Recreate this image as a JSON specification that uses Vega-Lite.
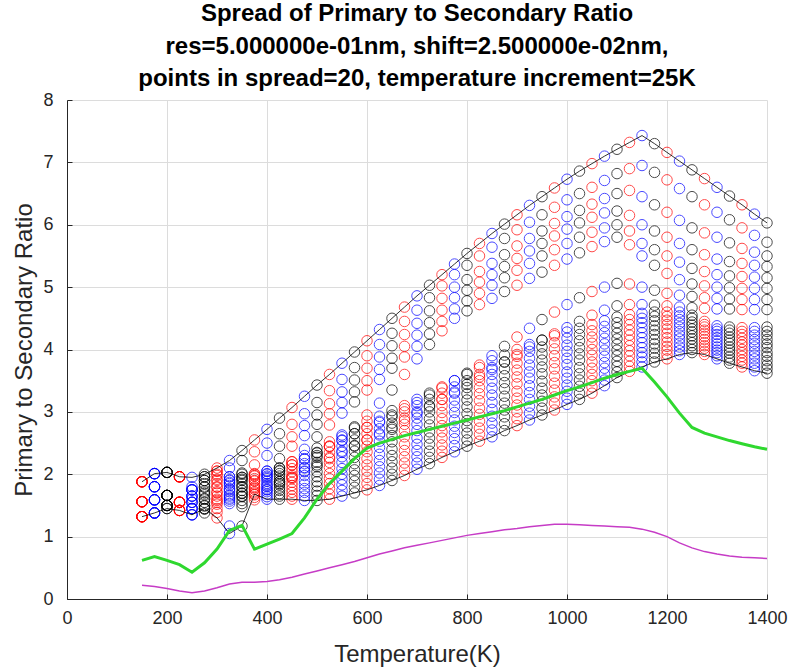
{
"$schema": "https://vega.github.io/schema/vega-lite/v6.json",
"width": 700, "height": 499,
"autosize": {"type": "none"},
"padding": {"left": 67, "top": 100, "right": 26, "bottom": 71},
"background": "white",
"title": {"text": ["Spread of Primary to Secondary Ratio", "res=5.000000e-01nm, shift=2.500000e-02nm,", "points in spread=20, temperature increment=25K"], "font": "Liberation Sans", "fontSize": 24, "fontWeight": "bold", "lineHeight": 32.5, "anchor": "middle", "frame": "group", "offset": 0, "color": "#000000"},
"config": {"view": {"stroke": null}},
"datasets": {
"pts": [
{"t":150,"v":1.88},{"t":150,"v":1.56},{"t":150,"v":1.32},{"t":150,"v":1.88},{"t":150,"v":1.56},{"t":150,"v":1.32},{"t":150,"v":1.88},{"t":150,"v":1.32},{"t":150,"v":1.32},{"t":150,"v":1.32},{"t":150,"v":1.32},{"t":150,"v":1.56},{"t":150,"v":1.56},{"t":150,"v":1.56},{"t":150,"v":1.56},{"t":150,"v":1.88},{"t":150,"v":1.88},{"t":150,"v":1.32},{"t":150,"v":1.56},{"t":150,"v":1.88},
{"t":175,"v":2.01},{"t":175,"v":1.8},{"t":175,"v":1.59},{"t":175,"v":2.01},{"t":175,"v":1.38},{"t":175,"v":1.59},{"t":175,"v":1.8},{"t":175,"v":1.38},{"t":175,"v":1.38},{"t":175,"v":1.38},{"t":175,"v":1.59},{"t":175,"v":1.59},{"t":175,"v":1.59},{"t":175,"v":1.8},{"t":175,"v":1.8},{"t":175,"v":1.8},{"t":175,"v":2.01},{"t":175,"v":2.01},{"t":175,"v":1.38},{"t":175,"v":2.01},
{"t":200,"v":2.03},{"t":200,"v":1.66},{"t":200,"v":1.5},{"t":200,"v":2.03},{"t":200,"v":1.66},{"t":200,"v":1.5},{"t":200,"v":2.03},{"t":200,"v":1.45},{"t":200,"v":1.45},{"t":200,"v":1.5},{"t":200,"v":1.5},{"t":200,"v":1.5},{"t":200,"v":1.66},{"t":200,"v":1.66},{"t":200,"v":1.66},{"t":200,"v":1.66},{"t":200,"v":2.03},{"t":200,"v":1.5},{"t":200,"v":1.66},{"t":200,"v":2.03},
{"t":225,"v":1.96},{"t":225,"v":1.55},{"t":225,"v":1.42},{"t":225,"v":1.96},{"t":225,"v":1.55},{"t":225,"v":1.42},{"t":225,"v":1.96},{"t":225,"v":1.55},{"t":225,"v":1.42},{"t":225,"v":1.42},{"t":225,"v":1.55},{"t":225,"v":1.55},{"t":225,"v":1.55},{"t":225,"v":1.55},{"t":225,"v":1.42},{"t":225,"v":1.96},{"t":225,"v":1.55},{"t":225,"v":1.42},{"t":225,"v":1.96},{"t":225,"v":1.96},
{"t":250,"v":1.95},{"t":250,"v":1.75},{"t":250,"v":1.65},{"t":250,"v":1.55},{"t":250,"v":1.45},{"t":250,"v":1.35},{"t":250,"v":1.75},{"t":250,"v":1.45},{"t":250,"v":1.35},{"t":250,"v":1.35},{"t":250,"v":1.45},{"t":250,"v":1.45},{"t":250,"v":1.55},{"t":250,"v":1.55},{"t":250,"v":1.65},{"t":250,"v":1.65},{"t":250,"v":1.75},{"t":250,"v":1.75},{"t":250,"v":1.6},{"t":250,"v":1.8},
{"t":275,"v":2.0},{"t":275,"v":1.9},{"t":275,"v":1.8},{"t":275,"v":1.7},{"t":275,"v":1.6},{"t":275,"v":1.45},{"t":275,"v":1.96},{"t":275,"v":1.5},{"t":275,"v":1.45},{"t":275,"v":1.38},{"t":275,"v":1.44},{"t":275,"v":1.49},{"t":275,"v":1.55},{"t":275,"v":1.61},{"t":275,"v":1.67},{"t":275,"v":1.73},{"t":275,"v":1.79},{"t":275,"v":1.85},{"t":275,"v":1.9},{"t":275,"v":1.96},
{"t":300,"v":2.1},{"t":300,"v":2.0},{"t":300,"v":1.9},{"t":300,"v":1.8},{"t":300,"v":1.7},{"t":300,"v":1.55},{"t":300,"v":2.05},{"t":300,"v":1.6},{"t":300,"v":1.3},{"t":300,"v":1.39},{"t":300,"v":1.45},{"t":300,"v":1.52},{"t":300,"v":1.58},{"t":300,"v":1.65},{"t":300,"v":1.72},{"t":300,"v":1.79},{"t":300,"v":1.85},{"t":300,"v":1.92},{"t":300,"v":1.98},{"t":300,"v":2.05},
{"t":325,"v":2.22},{"t":325,"v":2.1},{"t":325,"v":1.96},{"t":325,"v":1.85},{"t":325,"v":1.75},{"t":325,"v":1.6},{"t":325,"v":1.9},{"t":325,"v":1.65},{"t":325,"v":1.05},{"t":325,"v":1.17},{"t":325,"v":1.53},{"t":325,"v":1.57},{"t":325,"v":1.62},{"t":325,"v":1.67},{"t":325,"v":1.72},{"t":325,"v":1.77},{"t":325,"v":1.82},{"t":325,"v":1.87},{"t":325,"v":1.91},{"t":325,"v":1.96},
{"t":350,"v":2.38},{"t":350,"v":2.22},{"t":350,"v":2.02},{"t":350,"v":1.92},{"t":350,"v":1.8},{"t":350,"v":1.65},{"t":350,"v":1.95},{"t":350,"v":1.7},{"t":350,"v":1.17},{"t":350,"v":1.48},{"t":350,"v":1.53},{"t":350,"v":1.58},{"t":350,"v":1.64},{"t":350,"v":1.69},{"t":350,"v":1.74},{"t":350,"v":1.8},{"t":350,"v":1.85},{"t":350,"v":1.9},{"t":350,"v":1.95},{"t":350,"v":2.0},
{"t":375,"v":2.55},{"t":375,"v":2.36},{"t":375,"v":2.15},{"t":375,"v":1.98},{"t":375,"v":1.9},{"t":375,"v":1.7},{"t":375,"v":2.0},{"t":375,"v":1.78},{"t":375,"v":1.68},{"t":375,"v":1.59},{"t":375,"v":1.63},{"t":375,"v":1.67},{"t":375,"v":1.72},{"t":375,"v":1.76},{"t":375,"v":1.8},{"t":375,"v":1.84},{"t":375,"v":1.89},{"t":375,"v":1.93},{"t":375,"v":1.97},{"t":375,"v":2.01},
{"t":400,"v":2.72},{"t":400,"v":2.5},{"t":400,"v":2.3},{"t":400,"v":2.05},{"t":400,"v":1.95},{"t":400,"v":1.75},{"t":400,"v":2.0},{"t":400,"v":1.82},{"t":400,"v":1.6},{"t":400,"v":1.64},{"t":400,"v":1.68},{"t":400,"v":1.72},{"t":400,"v":1.76},{"t":400,"v":1.8},{"t":400,"v":1.85},{"t":400,"v":1.89},{"t":400,"v":1.93},{"t":400,"v":1.97},{"t":400,"v":2.01},{"t":400,"v":2.05},
{"t":425,"v":2.9},{"t":425,"v":2.65},{"t":425,"v":2.45},{"t":425,"v":2.25},{"t":425,"v":2.05},{"t":425,"v":1.85},{"t":425,"v":2.1},{"t":425,"v":1.88},{"t":425,"v":1.6},{"t":425,"v":1.65},{"t":425,"v":1.69},{"t":425,"v":1.74},{"t":425,"v":1.78},{"t":425,"v":1.83},{"t":425,"v":1.88},{"t":425,"v":1.92},{"t":425,"v":1.97},{"t":425,"v":2.01},{"t":425,"v":2.06},{"t":425,"v":2.1},
{"t":450,"v":3.07},{"t":450,"v":2.8},{"t":450,"v":2.6},{"t":450,"v":2.45},{"t":450,"v":2.2},{"t":450,"v":1.95},{"t":450,"v":2.15},{"t":450,"v":1.95},{"t":450,"v":1.6},{"t":450,"v":1.65},{"t":450,"v":1.71},{"t":450,"v":1.76},{"t":450,"v":1.82},{"t":450,"v":1.87},{"t":450,"v":1.93},{"t":450,"v":1.98},{"t":450,"v":2.04},{"t":450,"v":2.09},{"t":450,"v":2.15},{"t":450,"v":2.2},
{"t":475,"v":3.25},{"t":475,"v":2.97},{"t":475,"v":2.78},{"t":475,"v":2.62},{"t":475,"v":2.4},{"t":475,"v":2.1},{"t":475,"v":2.25},{"t":475,"v":2.05},{"t":475,"v":1.58},{"t":475,"v":1.65},{"t":475,"v":1.71},{"t":475,"v":1.77},{"t":475,"v":1.84},{"t":475,"v":1.9},{"t":475,"v":1.98},{"t":475,"v":2.04},{"t":475,"v":2.11},{"t":475,"v":2.17},{"t":475,"v":2.24},{"t":475,"v":2.3},
{"t":500,"v":3.43},{"t":500,"v":3.15},{"t":500,"v":2.95},{"t":500,"v":2.8},{"t":500,"v":2.6},{"t":500,"v":2.3},{"t":500,"v":2.35},{"t":500,"v":2.15},{"t":500,"v":1.58},{"t":500,"v":1.66},{"t":500,"v":1.73},{"t":500,"v":1.81},{"t":500,"v":1.88},{"t":500,"v":1.96},{"t":500,"v":2.04},{"t":500,"v":2.12},{"t":500,"v":2.19},{"t":500,"v":2.27},{"t":500,"v":2.34},{"t":500,"v":2.42},
{"t":525,"v":3.6},{"t":525,"v":3.34},{"t":525,"v":3.13},{"t":525,"v":2.97},{"t":525,"v":2.79},{"t":525,"v":2.45},{"t":525,"v":2.45},{"t":525,"v":2.25},{"t":525,"v":1.6},{"t":525,"v":1.68},{"t":525,"v":1.77},{"t":525,"v":1.85},{"t":525,"v":1.93},{"t":525,"v":2.01},{"t":525,"v":2.11},{"t":525,"v":2.19},{"t":525,"v":2.27},{"t":525,"v":2.35},{"t":525,"v":2.44},{"t":525,"v":2.52},
{"t":550,"v":3.78},{"t":550,"v":3.52},{"t":550,"v":3.32},{"t":550,"v":3.15},{"t":550,"v":2.98},{"t":550,"v":2.6},{"t":550,"v":2.55},{"t":550,"v":2.35},{"t":550,"v":1.65},{"t":550,"v":1.74},{"t":550,"v":1.83},{"t":550,"v":1.92},{"t":550,"v":2.0},{"t":550,"v":2.09},{"t":550,"v":2.19},{"t":550,"v":2.28},{"t":550,"v":2.37},{"t":550,"v":2.45},{"t":550,"v":2.54},{"t":550,"v":2.63},
{"t":575,"v":3.96},{"t":575,"v":3.71},{"t":575,"v":3.51},{"t":575,"v":3.32},{"t":575,"v":3.16},{"t":575,"v":2.76},{"t":575,"v":2.65},{"t":575,"v":2.45},{"t":575,"v":1.7},{"t":575,"v":1.79},{"t":575,"v":1.89},{"t":575,"v":1.98},{"t":575,"v":2.07},{"t":575,"v":2.17},{"t":575,"v":2.27},{"t":575,"v":2.37},{"t":575,"v":2.46},{"t":575,"v":2.55},{"t":575,"v":2.65},{"t":575,"v":2.74},
{"t":600,"v":4.14},{"t":600,"v":3.9},{"t":600,"v":3.7},{"t":600,"v":3.5},{"t":600,"v":3.35},{"t":600,"v":2.95},{"t":600,"v":2.75},{"t":600,"v":2.55},{"t":600,"v":1.75},{"t":600,"v":1.85},{"t":600,"v":1.95},{"t":600,"v":2.05},{"t":600,"v":2.15},{"t":600,"v":2.25},{"t":600,"v":2.36},{"t":600,"v":2.45},{"t":600,"v":2.55},{"t":600,"v":2.65},{"t":600,"v":2.75},{"t":600,"v":2.85},
{"t":625,"v":4.32},{"t":625,"v":4.08},{"t":625,"v":3.88},{"t":625,"v":3.68},{"t":625,"v":3.52},{"t":625,"v":3.14},{"t":625,"v":2.85},{"t":625,"v":2.65},{"t":625,"v":1.82},{"t":625,"v":1.92},{"t":625,"v":2.02},{"t":625,"v":2.12},{"t":625,"v":2.22},{"t":625,"v":2.32},{"t":625,"v":2.43},{"t":625,"v":2.53},{"t":625,"v":2.63},{"t":625,"v":2.73},{"t":625,"v":2.83},{"t":625,"v":2.93},
{"t":650,"v":4.5},{"t":650,"v":4.26},{"t":650,"v":4.06},{"t":650,"v":3.86},{"t":650,"v":3.7},{"t":650,"v":3.35},{"t":650,"v":2.95},{"t":650,"v":2.75},{"t":650,"v":1.9},{"t":650,"v":2.0},{"t":650,"v":2.1},{"t":650,"v":2.2},{"t":650,"v":2.3},{"t":650,"v":2.4},{"t":650,"v":2.52},{"t":650,"v":2.62},{"t":650,"v":2.72},{"t":650,"v":2.82},{"t":650,"v":2.92},{"t":650,"v":3.02},
{"t":675,"v":4.68},{"t":675,"v":4.45},{"t":675,"v":4.24},{"t":675,"v":4.05},{"t":675,"v":3.88},{"t":675,"v":3.6},{"t":675,"v":3.05},{"t":675,"v":2.86},{"t":675,"v":1.98},{"t":675,"v":2.08},{"t":675,"v":2.18},{"t":675,"v":2.28},{"t":675,"v":2.38},{"t":675,"v":2.48},{"t":675,"v":2.6},{"t":675,"v":2.7},{"t":675,"v":2.8},{"t":675,"v":2.9},{"t":675,"v":3.0},{"t":675,"v":3.1},
{"t":700,"v":4.86},{"t":700,"v":4.63},{"t":700,"v":4.42},{"t":700,"v":4.23},{"t":700,"v":4.05},{"t":700,"v":3.85},{"t":700,"v":3.15},{"t":700,"v":2.97},{"t":700,"v":2.08},{"t":700,"v":2.18},{"t":700,"v":2.28},{"t":700,"v":2.38},{"t":700,"v":2.48},{"t":700,"v":2.58},{"t":700,"v":2.7},{"t":700,"v":2.8},{"t":700,"v":2.9},{"t":700,"v":3.0},{"t":700,"v":3.1},{"t":700,"v":3.2},
{"t":725,"v":5.03},{"t":725,"v":4.83},{"t":725,"v":4.62},{"t":725,"v":4.43},{"t":725,"v":4.25},{"t":725,"v":4.08},{"t":725,"v":3.27},{"t":725,"v":3.08},{"t":725,"v":2.17},{"t":725,"v":2.27},{"t":725,"v":2.37},{"t":725,"v":2.48},{"t":725,"v":2.58},{"t":725,"v":2.68},{"t":725,"v":2.79},{"t":725,"v":2.89},{"t":725,"v":3.0},{"t":725,"v":3.1},{"t":725,"v":3.2},{"t":725,"v":3.3},
{"t":750,"v":5.2},{"t":750,"v":5.02},{"t":750,"v":4.82},{"t":750,"v":4.63},{"t":750,"v":4.45},{"t":750,"v":4.3},{"t":750,"v":3.38},{"t":750,"v":3.2},{"t":750,"v":2.27},{"t":750,"v":2.37},{"t":750,"v":2.47},{"t":750,"v":2.58},{"t":750,"v":2.68},{"t":750,"v":2.78},{"t":750,"v":2.89},{"t":750,"v":2.99},{"t":750,"v":3.1},{"t":750,"v":3.2},{"t":750,"v":3.3},{"t":750,"v":3.4},
{"t":775,"v":5.37},{"t":775,"v":5.2},{"t":775,"v":5.0},{"t":775,"v":4.83},{"t":775,"v":4.65},{"t":775,"v":4.5},{"t":775,"v":3.5},{"t":775,"v":3.32},{"t":775,"v":2.36},{"t":775,"v":2.46},{"t":775,"v":2.57},{"t":775,"v":2.67},{"t":775,"v":2.77},{"t":775,"v":2.87},{"t":775,"v":2.99},{"t":775,"v":3.09},{"t":775,"v":3.19},{"t":775,"v":3.3},{"t":775,"v":3.4},{"t":775,"v":3.5},
{"t":800,"v":5.54},{"t":800,"v":5.35},{"t":800,"v":5.12},{"t":800,"v":4.95},{"t":800,"v":4.78},{"t":800,"v":4.62},{"t":800,"v":3.62},{"t":800,"v":3.44},{"t":800,"v":2.45},{"t":800,"v":2.55},{"t":800,"v":2.66},{"t":800,"v":2.76},{"t":800,"v":2.86},{"t":800,"v":2.97},{"t":800,"v":3.08},{"t":800,"v":3.19},{"t":800,"v":3.29},{"t":800,"v":3.39},{"t":800,"v":3.5},{"t":800,"v":3.6},
{"t":825,"v":5.7},{"t":825,"v":5.5},{"t":825,"v":5.25},{"t":825,"v":5.08},{"t":825,"v":4.9},{"t":825,"v":4.72},{"t":825,"v":3.75},{"t":825,"v":3.56},{"t":825,"v":2.53},{"t":825,"v":2.64},{"t":825,"v":2.74},{"t":825,"v":2.85},{"t":825,"v":2.96},{"t":825,"v":3.06},{"t":825,"v":3.18},{"t":825,"v":3.29},{"t":825,"v":3.39},{"t":825,"v":3.5},{"t":825,"v":3.6},{"t":825,"v":3.71},
{"t":850,"v":5.86},{"t":850,"v":5.64},{"t":850,"v":5.38},{"t":850,"v":5.2},{"t":850,"v":5.03},{"t":850,"v":4.82},{"t":850,"v":3.9},{"t":850,"v":3.68},{"t":850,"v":2.6},{"t":850,"v":2.71},{"t":850,"v":2.82},{"t":850,"v":2.93},{"t":850,"v":3.04},{"t":850,"v":3.15},{"t":850,"v":3.27},{"t":850,"v":3.38},{"t":850,"v":3.49},{"t":850,"v":3.6},{"t":850,"v":3.71},{"t":850,"v":3.82},
{"t":875,"v":6.01},{"t":875,"v":5.78},{"t":875,"v":5.52},{"t":875,"v":5.33},{"t":875,"v":5.15},{"t":875,"v":4.93},{"t":875,"v":4.05},{"t":875,"v":3.8},{"t":875,"v":2.7},{"t":875,"v":2.81},{"t":875,"v":2.92},{"t":875,"v":3.03},{"t":875,"v":3.14},{"t":875,"v":3.25},{"t":875,"v":3.37},{"t":875,"v":3.47},{"t":875,"v":3.58},{"t":875,"v":3.69},{"t":875,"v":3.8},{"t":875,"v":3.91},
{"t":900,"v":6.16},{"t":900,"v":5.92},{"t":900,"v":5.66},{"t":900,"v":5.46},{"t":900,"v":5.27},{"t":900,"v":5.03},{"t":900,"v":4.2},{"t":900,"v":3.92},{"t":900,"v":2.78},{"t":900,"v":2.89},{"t":900,"v":3.0},{"t":900,"v":3.11},{"t":900,"v":3.22},{"t":900,"v":3.33},{"t":900,"v":3.45},{"t":900,"v":3.56},{"t":900,"v":3.67},{"t":900,"v":3.78},{"t":900,"v":3.89},{"t":900,"v":4.0},
{"t":925,"v":6.31},{"t":925,"v":6.04},{"t":925,"v":5.78},{"t":925,"v":5.58},{"t":925,"v":5.38},{"t":925,"v":5.14},{"t":925,"v":4.34},{"t":925,"v":4.04},{"t":925,"v":2.87},{"t":925,"v":2.98},{"t":925,"v":3.09},{"t":925,"v":3.2},{"t":925,"v":3.31},{"t":925,"v":3.42},{"t":925,"v":3.54},{"t":925,"v":3.64},{"t":925,"v":3.75},{"t":925,"v":3.86},{"t":925,"v":3.97},{"t":925,"v":4.08},
{"t":950,"v":6.45},{"t":950,"v":6.16},{"t":950,"v":5.9},{"t":950,"v":5.7},{"t":950,"v":5.5},{"t":950,"v":5.24},{"t":950,"v":4.48},{"t":950,"v":4.15},{"t":950,"v":2.95},{"t":950,"v":3.06},{"t":950,"v":3.17},{"t":950,"v":3.27},{"t":950,"v":3.38},{"t":950,"v":3.49},{"t":950,"v":3.61},{"t":950,"v":3.72},{"t":950,"v":3.83},{"t":950,"v":3.93},{"t":950,"v":4.04},{"t":950,"v":4.15},
{"t":975,"v":6.59},{"t":975,"v":6.28},{"t":975,"v":6.02},{"t":975,"v":5.82},{"t":975,"v":5.6},{"t":975,"v":5.35},{"t":975,"v":4.6},{"t":975,"v":4.25},{"t":975,"v":3.03},{"t":975,"v":3.14},{"t":975,"v":3.24},{"t":975,"v":3.35},{"t":975,"v":3.46},{"t":975,"v":3.57},{"t":975,"v":3.69},{"t":975,"v":3.79},{"t":975,"v":3.9},{"t":975,"v":4.01},{"t":975,"v":4.11},{"t":975,"v":4.22},
{"t":1000,"v":6.73},{"t":1000,"v":6.4},{"t":1000,"v":6.13},{"t":1000,"v":5.93},{"t":1000,"v":5.7},{"t":1000,"v":5.45},{"t":1000,"v":4.72},{"t":1000,"v":4.35},{"t":1000,"v":3.12},{"t":1000,"v":3.22},{"t":1000,"v":3.33},{"t":1000,"v":3.43},{"t":1000,"v":3.54},{"t":1000,"v":3.64},{"t":1000,"v":3.76},{"t":1000,"v":3.86},{"t":1000,"v":3.97},{"t":1000,"v":4.07},{"t":1000,"v":4.18},{"t":1000,"v":4.28},
{"t":1025,"v":6.86},{"t":1025,"v":6.5},{"t":1025,"v":6.23},{"t":1025,"v":6.03},{"t":1025,"v":5.8},{"t":1025,"v":5.55},{"t":1025,"v":4.83},{"t":1025,"v":4.45},{"t":1025,"v":3.2},{"t":1025,"v":3.3},{"t":1025,"v":3.41},{"t":1025,"v":3.51},{"t":1025,"v":3.61},{"t":1025,"v":3.71},{"t":1025,"v":3.83},{"t":1025,"v":3.93},{"t":1025,"v":4.03},{"t":1025,"v":4.14},{"t":1025,"v":4.24},{"t":1025,"v":4.34},
{"t":1050,"v":6.98},{"t":1050,"v":6.6},{"t":1050,"v":6.33},{"t":1050,"v":6.12},{"t":1050,"v":5.88},{"t":1050,"v":5.65},{"t":1050,"v":4.93},{"t":1050,"v":4.55},{"t":1050,"v":3.3},{"t":1050,"v":3.4},{"t":1050,"v":3.5},{"t":1050,"v":3.6},{"t":1050,"v":3.7},{"t":1050,"v":3.8},{"t":1050,"v":3.91},{"t":1050,"v":4.0},{"t":1050,"v":4.1},{"t":1050,"v":4.2},{"t":1050,"v":4.3},{"t":1050,"v":4.4},
{"t":1075,"v":7.1},{"t":1075,"v":6.71},{"t":1075,"v":6.42},{"t":1075,"v":6.19},{"t":1075,"v":5.95},{"t":1075,"v":5.73},{"t":1075,"v":5.0},{"t":1075,"v":4.63},{"t":1075,"v":3.42},{"t":1075,"v":3.51},{"t":1075,"v":3.61},{"t":1075,"v":3.7},{"t":1075,"v":3.79},{"t":1075,"v":3.89},{"t":1075,"v":3.99},{"t":1075,"v":4.09},{"t":1075,"v":4.18},{"t":1075,"v":4.27},{"t":1075,"v":4.37},{"t":1075,"v":4.46},
{"t":1100,"v":7.21},{"t":1100,"v":6.82},{"t":1100,"v":6.5},{"t":1100,"v":6.22},{"t":1100,"v":6.0},{"t":1100,"v":5.8},{"t":1100,"v":5.06},{"t":1100,"v":4.7},{"t":1100,"v":3.55},{"t":1100,"v":3.64},{"t":1100,"v":3.73},{"t":1100,"v":3.81},{"t":1100,"v":3.9},{"t":1100,"v":3.99},{"t":1100,"v":4.08},{"t":1100,"v":4.17},{"t":1100,"v":4.26},{"t":1100,"v":4.35},{"t":1100,"v":4.43},{"t":1100,"v":4.52},
{"t":1125,"v":7.32},{"t":1125,"v":6.9},{"t":1125,"v":6.55},{"t":1125,"v":6.15},{"t":1125,"v":5.9},{"t":1125,"v":5.68},{"t":1125,"v":5.05},{"t":1125,"v":4.72},{"t":1125,"v":3.65},{"t":1125,"v":3.73},{"t":1125,"v":3.81},{"t":1125,"v":3.9},{"t":1125,"v":3.98},{"t":1125,"v":4.06},{"t":1125,"v":4.15},{"t":1125,"v":4.23},{"t":1125,"v":4.31},{"t":1125,"v":4.4},{"t":1125,"v":4.48},{"t":1125,"v":4.56},
{"t":1150,"v":7.43},{"t":1150,"v":6.95},{"t":1150,"v":6.45},{"t":1150,"v":6.0},{"t":1150,"v":5.7},{"t":1150,"v":5.5},{"t":1150,"v":5.0},{"t":1150,"v":4.72},{"t":1150,"v":3.72},{"t":1150,"v":3.8},{"t":1150,"v":3.88},{"t":1150,"v":3.95},{"t":1150,"v":4.03},{"t":1150,"v":4.11},{"t":1150,"v":4.19},{"t":1150,"v":4.27},{"t":1150,"v":4.35},{"t":1150,"v":4.43},{"t":1150,"v":4.5},{"t":1150,"v":4.58},
{"t":1175,"v":7.3},{"t":1175,"v":6.84},{"t":1175,"v":6.32},{"t":1175,"v":5.9},{"t":1175,"v":5.6},{"t":1175,"v":5.35},{"t":1175,"v":4.95},{"t":1175,"v":4.71},{"t":1175,"v":3.8},{"t":1175,"v":3.87},{"t":1175,"v":3.94},{"t":1175,"v":4.02},{"t":1175,"v":4.09},{"t":1175,"v":4.16},{"t":1175,"v":4.24},{"t":1175,"v":4.31},{"t":1175,"v":4.38},{"t":1175,"v":4.46},{"t":1175,"v":4.53},{"t":1175,"v":4.6},
{"t":1200,"v":7.16},{"t":1200,"v":6.72},{"t":1200,"v":6.2},{"t":1200,"v":5.8},{"t":1200,"v":5.5},{"t":1200,"v":5.22},{"t":1200,"v":4.9},{"t":1200,"v":4.7},{"t":1200,"v":3.85},{"t":1200,"v":3.92},{"t":1200,"v":3.99},{"t":1200,"v":4.05},{"t":1200,"v":4.12},{"t":1200,"v":4.19},{"t":1200,"v":4.26},{"t":1200,"v":4.33},{"t":1200,"v":4.4},{"t":1200,"v":4.47},{"t":1200,"v":4.53},{"t":1200,"v":4.6},
{"t":1225,"v":7.02},{"t":1225,"v":6.58},{"t":1225,"v":6.07},{"t":1225,"v":5.7},{"t":1225,"v":5.4},{"t":1225,"v":5.12},{"t":1225,"v":4.87},{"t":1225,"v":4.68},{"t":1225,"v":3.92},{"t":1225,"v":3.98},{"t":1225,"v":4.04},{"t":1225,"v":4.1},{"t":1225,"v":4.17},{"t":1225,"v":4.23},{"t":1225,"v":4.29},{"t":1225,"v":4.36},{"t":1225,"v":4.42},{"t":1225,"v":4.48},{"t":1225,"v":4.54},{"t":1225,"v":4.6},
{"t":1250,"v":6.88},{"t":1250,"v":6.45},{"t":1250,"v":5.95},{"t":1250,"v":5.6},{"t":1250,"v":5.3},{"t":1250,"v":5.05},{"t":1250,"v":4.85},{"t":1250,"v":4.67},{"t":1250,"v":3.95},{"t":1250,"v":4.0},{"t":1250,"v":4.06},{"t":1250,"v":4.11},{"t":1250,"v":4.17},{"t":1250,"v":4.22},{"t":1250,"v":4.28},{"t":1250,"v":4.33},{"t":1250,"v":4.39},{"t":1250,"v":4.44},{"t":1250,"v":4.5},{"t":1250,"v":4.55},
{"t":1275,"v":6.74},{"t":1275,"v":6.32},{"t":1275,"v":5.87},{"t":1275,"v":5.52},{"t":1275,"v":5.25},{"t":1275,"v":5.02},{"t":1275,"v":4.83},{"t":1275,"v":4.66},{"t":1275,"v":3.92},{"t":1275,"v":3.97},{"t":1275,"v":4.02},{"t":1275,"v":4.06},{"t":1275,"v":4.11},{"t":1275,"v":4.16},{"t":1275,"v":4.21},{"t":1275,"v":4.26},{"t":1275,"v":4.31},{"t":1275,"v":4.36},{"t":1275,"v":4.4},{"t":1275,"v":4.45},
{"t":1300,"v":6.6},{"t":1300,"v":6.2},{"t":1300,"v":5.8},{"t":1300,"v":5.45},{"t":1300,"v":5.2},{"t":1300,"v":5.0},{"t":1300,"v":4.82},{"t":1300,"v":4.65},{"t":1300,"v":3.85},{"t":1300,"v":3.9},{"t":1300,"v":3.95},{"t":1300,"v":3.99},{"t":1300,"v":4.04},{"t":1300,"v":4.09},{"t":1300,"v":4.14},{"t":1300,"v":4.19},{"t":1300,"v":4.24},{"t":1300,"v":4.29},{"t":1300,"v":4.33},{"t":1300,"v":4.38},
{"t":1325,"v":6.46},{"t":1325,"v":6.08},{"t":1325,"v":5.71},{"t":1325,"v":5.41},{"t":1325,"v":5.18},{"t":1325,"v":4.99},{"t":1325,"v":4.81},{"t":1325,"v":4.65},{"t":1325,"v":3.78},{"t":1325,"v":3.83},{"t":1325,"v":3.88},{"t":1325,"v":3.94},{"t":1325,"v":3.99},{"t":1325,"v":4.04},{"t":1325,"v":4.1},{"t":1325,"v":4.15},{"t":1325,"v":4.2},{"t":1325,"v":4.26},{"t":1325,"v":4.31},{"t":1325,"v":4.36},
{"t":1350,"v":6.32},{"t":1350,"v":5.95},{"t":1350,"v":5.62},{"t":1350,"v":5.38},{"t":1350,"v":5.17},{"t":1350,"v":4.98},{"t":1350,"v":4.8},{"t":1350,"v":4.64},{"t":1350,"v":3.72},{"t":1350,"v":3.78},{"t":1350,"v":3.83},{"t":1350,"v":3.89},{"t":1350,"v":3.95},{"t":1350,"v":4.0},{"t":1350,"v":4.07},{"t":1350,"v":4.12},{"t":1350,"v":4.18},{"t":1350,"v":4.24},{"t":1350,"v":4.29},{"t":1350,"v":4.35},
{"t":1375,"v":6.17},{"t":1375,"v":5.83},{"t":1375,"v":5.56},{"t":1375,"v":5.35},{"t":1375,"v":5.16},{"t":1375,"v":4.98},{"t":1375,"v":4.8},{"t":1375,"v":4.64},{"t":1375,"v":3.66},{"t":1375,"v":3.72},{"t":1375,"v":3.78},{"t":1375,"v":3.85},{"t":1375,"v":3.91},{"t":1375,"v":3.97},{"t":1375,"v":4.04},{"t":1375,"v":4.1},{"t":1375,"v":4.16},{"t":1375,"v":4.23},{"t":1375,"v":4.29},{"t":1375,"v":4.35},
{"t":1400,"v":6.03},{"t":1400,"v":5.72},{"t":1400,"v":5.5},{"t":1400,"v":5.33},{"t":1400,"v":5.15},{"t":1400,"v":4.98},{"t":1400,"v":4.8},{"t":1400,"v":4.64},{"t":1400,"v":3.62},{"t":1400,"v":3.69},{"t":1400,"v":3.75},{"t":1400,"v":3.82},{"t":1400,"v":3.89},{"t":1400,"v":3.95},{"t":1400,"v":4.03},{"t":1400,"v":4.09},{"t":1400,"v":4.16},{"t":1400,"v":4.23},{"t":1400,"v":4.29},{"t":1400,"v":4.36}
],
"lns": [
{"s":"top","t":150,"v":1.88},{"s":"top","t":175,"v":2.01},{"s":"top","t":200,"v":2.03},{"s":"top","t":225,"v":1.96},{"s":"top","t":250,"v":1.95},{"s":"top","t":275,"v":2.0},{"s":"top","t":300,"v":2.1},{"s":"top","t":325,"v":2.22},{"s":"top","t":350,"v":2.38},{"s":"top","t":375,"v":2.55},{"s":"top","t":400,"v":2.72},{"s":"top","t":425,"v":2.9},{"s":"top","t":450,"v":3.07},{"s":"top","t":475,"v":3.25},{"s":"top","t":500,"v":3.43},{"s":"top","t":525,"v":3.6},{"s":"top","t":550,"v":3.78},{"s":"top","t":575,"v":3.96},{"s":"top","t":600,"v":4.14},{"s":"top","t":625,"v":4.32},{"s":"top","t":650,"v":4.5},{"s":"top","t":675,"v":4.68},{"s":"top","t":700,"v":4.86},{"s":"top","t":725,"v":5.03},{"s":"top","t":750,"v":5.2},{"s":"top","t":775,"v":5.37},{"s":"top","t":800,"v":5.54},{"s":"top","t":825,"v":5.7},{"s":"top","t":850,"v":5.86},{"s":"top","t":875,"v":6.01},{"s":"top","t":900,"v":6.16},{"s":"top","t":925,"v":6.31},{"s":"top","t":950,"v":6.45},{"s":"top","t":975,"v":6.59},{"s":"top","t":1000,"v":6.73},{"s":"top","t":1025,"v":6.86},{"s":"top","t":1050,"v":6.98},{"s":"top","t":1075,"v":7.1},{"s":"top","t":1100,"v":7.21},{"s":"top","t":1125,"v":7.32},{"s":"top","t":1150,"v":7.43},{"s":"top","t":1175,"v":7.3},{"s":"top","t":1200,"v":7.16},{"s":"top","t":1225,"v":7.02},{"s":"top","t":1250,"v":6.88},{"s":"top","t":1275,"v":6.74},{"s":"top","t":1300,"v":6.6},{"s":"top","t":1325,"v":6.46},{"s":"top","t":1350,"v":6.32},{"s":"top","t":1375,"v":6.17},{"s":"top","t":1400,"v":6.03},
{"s":"bot","t":150,"v":1.32},{"s":"bot","t":175,"v":1.38},{"s":"bot","t":200,"v":1.45},{"s":"bot","t":225,"v":1.42},{"s":"bot","t":250,"v":1.35},{"s":"bot","t":275,"v":1.45},{"s":"bot","t":300,"v":1.3},{"s":"bot","t":325,"v":1.05},{"s":"bot","t":350,"v":1.17},{"s":"bot","t":375,"v":1.68},{"s":"bot","t":400,"v":1.6},{"s":"bot","t":425,"v":1.6},{"s":"bot","t":450,"v":1.6},{"s":"bot","t":475,"v":1.58},{"s":"bot","t":500,"v":1.58},{"s":"bot","t":525,"v":1.6},{"s":"bot","t":550,"v":1.65},{"s":"bot","t":575,"v":1.7},{"s":"bot","t":600,"v":1.75},{"s":"bot","t":625,"v":1.82},{"s":"bot","t":650,"v":1.9},{"s":"bot","t":675,"v":1.98},{"s":"bot","t":700,"v":2.08},{"s":"bot","t":725,"v":2.17},{"s":"bot","t":750,"v":2.27},{"s":"bot","t":775,"v":2.36},{"s":"bot","t":800,"v":2.45},{"s":"bot","t":825,"v":2.53},{"s":"bot","t":850,"v":2.6},{"s":"bot","t":875,"v":2.7},{"s":"bot","t":900,"v":2.78},{"s":"bot","t":925,"v":2.87},{"s":"bot","t":950,"v":2.95},{"s":"bot","t":975,"v":3.03},{"s":"bot","t":1000,"v":3.12},{"s":"bot","t":1025,"v":3.2},{"s":"bot","t":1050,"v":3.3},{"s":"bot","t":1075,"v":3.42},{"s":"bot","t":1100,"v":3.55},{"s":"bot","t":1125,"v":3.65},{"s":"bot","t":1150,"v":3.72},{"s":"bot","t":1175,"v":3.8},{"s":"bot","t":1200,"v":3.85},{"s":"bot","t":1225,"v":3.92},{"s":"bot","t":1250,"v":3.95},{"s":"bot","t":1275,"v":3.92},{"s":"bot","t":1300,"v":3.85},{"s":"bot","t":1325,"v":3.78},{"s":"bot","t":1350,"v":3.72},{"s":"bot","t":1375,"v":3.66},{"s":"bot","t":1400,"v":3.62},
{"s":"r1","t":150,"v":0.62},{"s":"r1","t":175,"v":0.68},{"s":"r1","t":200,"v":0.62},{"s":"r1","t":225,"v":0.55},{"s":"r1","t":250,"v":0.43},{"s":"r1","t":275,"v":0.58},{"s":"r1","t":300,"v":0.8},{"s":"r1","t":325,"v":1.1},{"s":"r1","t":350,"v":1.18},{"s":"r1","t":375,"v":0.8},{"s":"r1","t":400,"v":0.88},{"s":"r1","t":425,"v":0.96},{"s":"r1","t":450,"v":1.05},{"s":"r1","t":475,"v":1.3},{"s":"r1","t":500,"v":1.6},{"s":"r1","t":525,"v":1.85},{"s":"r1","t":550,"v":2.05},{"s":"r1","t":575,"v":2.25},{"s":"r1","t":600,"v":2.42},{"s":"r1","t":625,"v":2.5},{"s":"r1","t":650,"v":2.56},{"s":"r1","t":675,"v":2.62},{"s":"r1","t":700,"v":2.67},{"s":"r1","t":725,"v":2.72},{"s":"r1","t":750,"v":2.77},{"s":"r1","t":775,"v":2.82},{"s":"r1","t":800,"v":2.87},{"s":"r1","t":825,"v":2.92},{"s":"r1","t":850,"v":2.97},{"s":"r1","t":875,"v":3.02},{"s":"r1","t":900,"v":3.08},{"s":"r1","t":925,"v":3.14},{"s":"r1","t":950,"v":3.2},{"s":"r1","t":975,"v":3.27},{"s":"r1","t":1000,"v":3.34},{"s":"r1","t":1025,"v":3.4},{"s":"r1","t":1050,"v":3.47},{"s":"r1","t":1075,"v":3.54},{"s":"r1","t":1100,"v":3.6},{"s":"r1","t":1125,"v":3.65},{"s":"r1","t":1150,"v":3.7},{"s":"r1","t":1175,"v":3.48},{"s":"r1","t":1200,"v":3.24},{"s":"r1","t":1225,"v":2.98},{"s":"r1","t":1250,"v":2.75},{"s":"r1","t":1275,"v":2.66},{"s":"r1","t":1300,"v":2.6},{"s":"r1","t":1325,"v":2.54},{"s":"r1","t":1350,"v":2.49},{"s":"r1","t":1375,"v":2.44},{"s":"r1","t":1400,"v":2.4},
{"s":"r2","t":150,"v":0.22},{"s":"r2","t":175,"v":0.2},{"s":"r2","t":200,"v":0.17},{"s":"r2","t":225,"v":0.13},{"s":"r2","t":250,"v":0.1},{"s":"r2","t":275,"v":0.13},{"s":"r2","t":300,"v":0.18},{"s":"r2","t":325,"v":0.24},{"s":"r2","t":350,"v":0.27},{"s":"r2","t":375,"v":0.27},{"s":"r2","t":400,"v":0.28},{"s":"r2","t":425,"v":0.31},{"s":"r2","t":450,"v":0.35},{"s":"r2","t":475,"v":0.4},{"s":"r2","t":500,"v":0.45},{"s":"r2","t":525,"v":0.5},{"s":"r2","t":550,"v":0.55},{"s":"r2","t":575,"v":0.6},{"s":"r2","t":600,"v":0.66},{"s":"r2","t":625,"v":0.72},{"s":"r2","t":650,"v":0.77},{"s":"r2","t":675,"v":0.82},{"s":"r2","t":700,"v":0.86},{"s":"r2","t":725,"v":0.9},{"s":"r2","t":750,"v":0.94},{"s":"r2","t":775,"v":0.98},{"s":"r2","t":800,"v":1.02},{"s":"r2","t":825,"v":1.05},{"s":"r2","t":850,"v":1.08},{"s":"r2","t":875,"v":1.11},{"s":"r2","t":900,"v":1.13},{"s":"r2","t":925,"v":1.16},{"s":"r2","t":950,"v":1.18},{"s":"r2","t":975,"v":1.2},{"s":"r2","t":1000,"v":1.2},{"s":"r2","t":1025,"v":1.19},{"s":"r2","t":1050,"v":1.18},{"s":"r2","t":1075,"v":1.17},{"s":"r2","t":1100,"v":1.16},{"s":"r2","t":1125,"v":1.15},{"s":"r2","t":1150,"v":1.12},{"s":"r2","t":1175,"v":1.07},{"s":"r2","t":1200,"v":1.0},{"s":"r2","t":1225,"v":0.9},{"s":"r2","t":1250,"v":0.82},{"s":"r2","t":1275,"v":0.76},{"s":"r2","t":1300,"v":0.72},{"s":"r2","t":1325,"v":0.69},{"s":"r2","t":1350,"v":0.67},{"s":"r2","t":1375,"v":0.66},{"s":"r2","t":1400,"v":0.65}
]
},
"layer": [
{"data": {"name": "pts"},
 "mark": {"type": "point", "shape": "circle", "filled": false, "size": 110, "strokeWidth": 1},
 "encoding": {
  "x": {"field": "t", "type": "quantitative", "scale": {"domain": [0, 1400], "nice": false},
        "axis": {"title": "Temperature(K)", "values": [0,200,400,600,800,1000,1200,1400], "format": "d", "grid": true, "gridColor": "#dcdcdc", "domainColor": "#262626", "tickColor": "#262626", "tickSize": -5, "labelPadding": 15, "labelFont": "Liberation Sans", "labelFontSize": 18, "labelColor": "#262626", "titleFont": "Liberation Sans", "titleFontSize": 24, "titleFontWeight": "normal", "titleColor": "#262626", "titlePadding": 15, "labelFlush": false}},
  "y": {"field": "v", "type": "quantitative", "scale": {"domain": [0, 8], "nice": false},
        "axis": {"title": "Primary to Secondary Ratio", "values": [0,1,2,3,4,5,6,7,8], "format": "d", "grid": true, "gridColor": "#dcdcdc", "domainColor": "#262626", "tickColor": "#262626", "tickSize": -5, "labelPadding": 19, "labelFont": "Liberation Sans", "labelFontSize": 18, "labelColor": "#262626", "titleFont": "Liberation Sans", "titleFontSize": 24, "titleFontWeight": "normal", "titleColor": "#262626", "titlePadding": 6, "labelFlush": false}},
  "color": {"field": "t", "type": "ordinal", "scale": {"range": ["#ff0000", "#0000ff", "#000000"]}, "legend": null}
 }},
{"data": {"name": "lns"},
 "transform": [{"filter": "datum.s == 'top' || datum.s == 'bot'"}],
 "mark": {"type": "line", "color": "#000000", "strokeWidth": 0.8},
 "encoding": {"x": {"field": "t", "type": "quantitative"}, "y": {"field": "v", "type": "quantitative"}, "detail": {"field": "s"}}},
{"data": {"name": "lns"},
 "transform": [{"filter": "datum.s == 'r1'"}],
 "mark": {"type": "line", "color": "#2fd82f", "strokeWidth": 3},
 "encoding": {"x": {"field": "t", "type": "quantitative"}, "y": {"field": "v", "type": "quantitative"}}},
{"data": {"name": "lns"},
 "transform": [{"filter": "datum.s == 'r2'"}],
 "mark": {"type": "line", "color": "#c63cc6", "strokeWidth": 1.5},
 "encoding": {"x": {"field": "t", "type": "quantitative"}, "y": {"field": "v", "type": "quantitative"}}}
]
}
